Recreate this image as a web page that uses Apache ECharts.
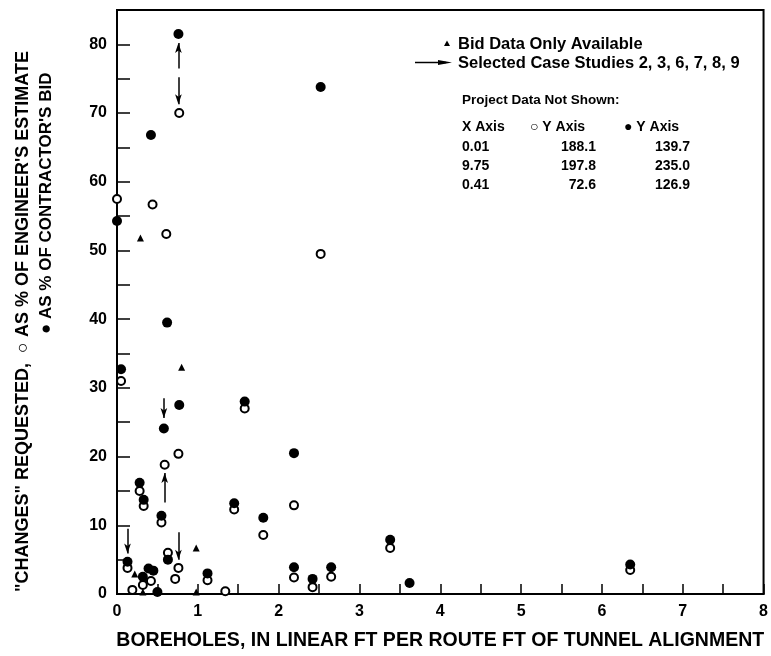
<!DOCTYPE html>
<html>
<head>
<meta charset="utf-8">
<script src="https://cdn.jsdelivr.net/npm/echarts@6/dist/echarts.min.js"></script>
<style>
  html, body { margin: 0; padding: 0; background: #fff; }
  #main { width: 771px; height: 656px; }
</style>
</head>
<body>
<div id="main"></div>
<script>
// changes as % of engineer's estimate (open circles) [boreholes, pct]
var engineerPct = [
  [0.00, 57.5], [0.44, 56.7], [0.61, 52.4], [0.77, 70.0], [2.52, 49.5],
  [0.05, 31.0], [1.58, 27.0], [0.76, 20.4], [0.59, 18.8], [0.28, 15.0],
  [0.33, 12.8], [1.45, 12.3], [2.19, 12.9], [0.55, 10.4], [1.81, 8.6],
  [3.38, 6.7], [0.63, 6.0], [0.76, 3.8], [0.72, 2.2], [0.13, 3.8],
  [0.42, 1.9], [0.32, 1.3], [0.19, 0.6], [1.12, 2.0], [1.34, 0.4],
  [2.19, 2.4], [2.42, 1.0], [2.65, 2.5], [6.35, 3.5]
];
// changes as % of contractor's bid (filled circles)
var contractorPct = [
  [0.76, 81.5], [0.42, 66.8], [2.52, 73.8], [0.00, 54.3], [0.62, 39.5],
  [0.05, 32.7], [0.77, 27.5], [1.58, 28.0], [0.58, 24.1], [2.19, 20.5],
  [0.28, 16.2], [0.33, 13.7], [1.45, 13.2], [0.55, 11.4], [1.81, 11.1],
  [3.38, 7.9], [0.63, 5.0], [0.13, 4.7], [0.39, 3.7], [0.45, 3.4],
  [0.32, 2.5], [0.50, 0.3], [1.12, 3.0], [2.19, 3.9], [2.42, 2.2],
  [2.65, 3.9], [3.62, 1.6], [6.35, 4.3]
];
// bid data only (triangles)
var bidOnly = [
  [0.29, 51.8], [0.80, 33.0], [0.98, 6.7], [0.22, 2.9], [0.98, 0.3], [0.32, 0.3]
];
// selected case study arrows: [x, from, to]
var caseArrows = [
  [0.76, 76.5, 80.2], [0.76, 75.2, 71.3], [0.58, 28.5, 25.6],
  [0.59, 13.3, 17.6], [0.76, 9.0, 5.0], [0.13, 9.5, 5.9]
];
// project data not shown table
var tableHead = ['X Axis', '\u25CB Y Axis', '\u25CF Y Axis'];
var tableRows = [
  ['0.01', '188.1', '139.7'],
  ['9.75', '197.8', '235.0'],
  ['0.41', '72.6', '126.9']
];

var FONT = '"Liberation Sans", Arial, sans-serif';

function txt(x, y, text, size, align, extra) {
  var el = {
    type: 'text',
    x: x,
    y: y,
    style: {
      text: text,
      fill: '#000',
      fontSize: size,
      fontWeight: 'bold',
      fontFamily: FONT,
      textAlign: align || 'left',
      verticalAlign: 'middle'
    }
  };
  if (extra) for (var k in extra) el[k] = extra[k];
  return el;
}

var arrowLines = caseArrows.map(function (a) {
  return [{ coord: [a[0], a[1]] }, { coord: [a[0], a[2]] }];
});

var graphics = [
  // legend
  {
    type: 'polygon',
    shape: { points: [[447, 40.5], [444, 46], [450, 46]] },
    style: { fill: '#000' }
  },
  {
    type: 'line',
    shape: { x1: 415, y1: 62.5, x2: 446, y2: 62.5 },
    style: { stroke: '#000', lineWidth: 1.5 }
  },
  {
    type: 'polygon',
    shape: { points: [[452, 62.5], [438, 60], [438, 65]] },
    style: { fill: '#000' }
  },
  txt(458, 44, 'Bid Data Only Available', 16.5),
  txt(458, 63, 'Selected Case Studies 2, 3, 6, 7, 8, 9', 16.5),
  txt(462, 100, 'Project Data Not Shown:', 13.5),
  txt(462, 127, tableHead[0], 14),
  txt(530, 127, tableHead[1], 14),
  txt(624, 127, tableHead[2], 14),
  // y axis title
  txt(23, 592, '"CHANGES" REQUESTED,  \u25CB AS % OF ENGINEER\'S ESTIMATE', 18, 'left', { rotation: Math.PI / 2 }),
  txt(46, 334, '\u25CF AS % OF CONTRACTOR\'S BID', 17, 'left', { rotation: Math.PI / 2 })
];
tableRows.forEach(function (r, i) {
  var y = 147 + i * 19;
  graphics.push(txt(462, y, r[0], 14));
  graphics.push(txt(596, y, r[1], 14, 'right'));
  graphics.push(txt(690, y, r[2], 14, 'right'));
});

var myChart = echarts.init(document.getElementById('main'));
myChart.setOption({
  backgroundColor: '#fff',
  animation: false,
  grid: {
    left: 117, right: 4, top: 10, bottom: 53,
    show: true, borderColor: '#000', borderWidth: 2
  },
  xAxis: {
    type: 'value',
    min: 0, max: 8, interval: 0.5,
    name: 'BOREHOLES, IN LINEAR FT PER ROUTE FT OF TUNNEL ALIGNMENT',
    nameLocation: 'middle',
    nameGap: 37,
    nameTextStyle: { color: '#000', fontSize: 19.5, fontWeight: 'bold', fontFamily: FONT },
    axisLine: { lineStyle: { color: '#000', width: 2 } },
    axisTick: { inside: true, length: 10, lineStyle: { color: '#000', width: 1.5 } },
    axisLabel: {
      color: '#000', fontSize: 16, fontWeight: 'bold', fontFamily: FONT, margin: 10,
      formatter: function (v) { return v % 1 === 0 ? String(v) : ''; }
    },
    splitLine: { show: false }
  },
  yAxis: {
    type: 'value',
    min: 0, max: 85, interval: 5,
    axisLine: { lineStyle: { color: '#000', width: 2 } },
    axisTick: { inside: true, length: 13, lineStyle: { color: '#000', width: 1.5 } },
    axisLabel: {
      color: '#000', fontSize: 16, fontWeight: 'bold', fontFamily: FONT, margin: 10,
      formatter: function (v) { return v % 10 === 0 && v <= 80 ? String(v) : ''; }
    },
    splitLine: { show: false }
  },
  series: [
    {
      name: 'engineer',
      type: 'scatter',
      data: engineerPct,
      symbol: 'circle',
      symbolSize: 8,
      clip: false,
      itemStyle: { color: '#fff', borderColor: '#000', borderWidth: 2, opacity: 1 }
    },
    {
      name: 'contractor',
      type: 'scatter',
      data: contractorPct,
      symbol: 'circle',
      symbolSize: 10,
      clip: false,
      itemStyle: { color: '#000', opacity: 1 }
    },
    {
      name: 'bid only',
      type: 'scatter',
      data: bidOnly,
      symbol: 'triangle',
      symbolSize: [7, 7],
      clip: false,
      itemStyle: { color: '#000', opacity: 1 }
    },
    {
      name: 'case studies',
      type: 'scatter',
      data: [],
      markLine: {
        silent: true,
        symbol: ['none', 'arrow'],
        symbolSize: [5, 10],
        label: { show: false },
        lineStyle: { color: '#000', width: 1.5, type: 'solid' },
        data: arrowLines
      }
    }
  ],
  graphic: graphics
});
</script>
</body>
</html>
